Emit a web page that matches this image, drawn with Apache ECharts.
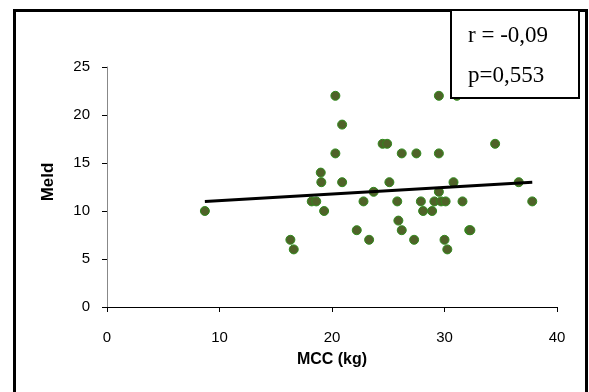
<!DOCTYPE html>
<html>
<head>
<meta charset="utf-8">
<script src="https://cdn.jsdelivr.net/npm/echarts@6/dist/echarts.min.js"></script>
<style>html,body{margin:0;padding:0;background:#fff}#c{width:589px;height:392px}</style>
</head>
<body>
<div id="c"></div>
<script>
var mcc  = [8.7,16.3,16.6,18.2,18.6,19.3,19.0,19.05,20.3,20.9,20.3,20.9,29.5,31.1,24.5,24.9,26.2,27.5,29.5,34.5,23.7,25.1,29.5,30.8,36.6,22.8,25.8,27.9,29.1,29.7,30.1,31.6,37.8,28.1,28.9,25.9,22.2,26.2,32.2,32.3,23.3,27.3,30.0,30.25];
var meld = [10,7,6,11,11,10,14,13,22,19,16,13,22,22,17,17,16,16,16,17,12,13,12,13,13,11,11,11,11,11,11,11,11,10,10,9,8,8,8,8,7,7,7,6];
var trendX = [8.7, 37.8];
var trendY = [11.0, 13.0];
var xTicks = [0,10,20,30,40];
var yTicks = [0,5,10,15,20,25];
var statLines = ['r = -0,09', 'p=0,553'];

var pts = mcc.map(function(x,i){return [x, meld[i]];});
var tr = trendX.map(function(x,i){return [x, trendY[i]];});
var chart = echarts.init(document.getElementById('c'), null, {renderer:'canvas'});
chart.setOption({
  animation:false,
  grid:{left:107,right:32,top:67,bottom:85,containLabel:false},
  xAxis:{type:'value',min:xTicks[0],max:xTicks[xTicks.length-1],interval:10,
    name:'MCC (kg)',nameLocation:'middle',nameGap:45,
    nameTextStyle:{fontFamily:'Liberation Sans',fontWeight:'bold',fontSize:16,color:'#000'},
    axisLine:{show:true,lineStyle:{color:'#000',width:1}},
    axisTick:{show:true,length:5,lineStyle:{color:'#000'}},
    axisLabel:{fontFamily:'Liberation Sans',fontSize:15,color:'#000',margin:23},
    splitLine:{show:false}},
  yAxis:{type:'value',min:yTicks[0],max:yTicks[yTicks.length-1],interval:5,
    name:'Meld',nameLocation:'middle',nameGap:50,nameRotate:90,
    nameTextStyle:{fontFamily:'Liberation Sans',fontWeight:'bold',fontSize:17,color:'#000',padding:[0,0,0,10]},
    axisLine:{show:true,lineStyle:{color:'#888',width:1}},
    axisTick:{show:true,length:5,lineStyle:{color:'#000'}},
    axisLabel:{fontFamily:'Liberation Sans',fontSize:15,color:'#000',margin:17},
    splitLine:{show:false}},
  series:[
    {type:'scatter',data:pts,symbolSize:9,
      itemStyle:{color:'#4f6228',borderColor:'#2f8a1c',borderWidth:1,opacity:1},z:3},
    {type:'line',data:tr,symbol:'none',lineStyle:{color:'#000',width:3},z:4}
  ],
  graphic:[
    {type:'polyline',shape:{points:[[14.5,392],[14.5,10.5],[586.5,10.5],[586.5,392]]},
      style:{stroke:'#000',lineWidth:3,fill:null},z:10},
    {type:'rect',shape:{x:451,y:10,width:128,height:88},
      style:{fill:'#fff',stroke:'#000',lineWidth:2},z:11},
    {type:'text',x:468,y:36,style:{text:statLines[0],font:'23px "Liberation Serif"',fill:'#000',textAlign:'left',textVerticalAlign:'middle'},z:12},
    {type:'text',x:468,y:76,style:{text:statLines[1],font:'23px "Liberation Serif"',fill:'#000',textAlign:'left',textVerticalAlign:'middle'},z:12}
  ]
});
</script>
</body>
</html>
